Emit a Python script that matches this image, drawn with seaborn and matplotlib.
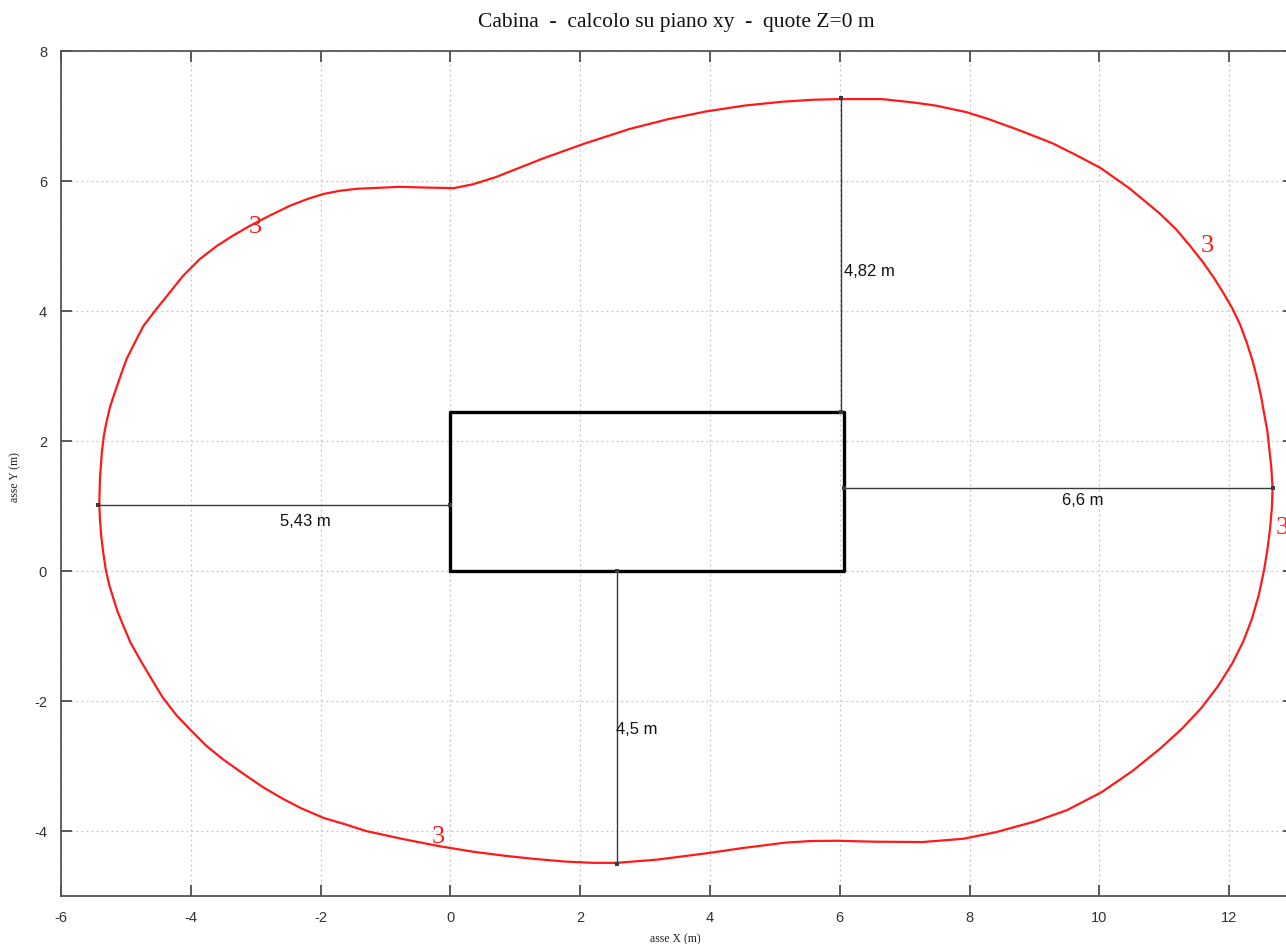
import numpy as np
import pandas as pd
import matplotlib
matplotlib.use("Agg")
import matplotlib.pyplot as plt
import seaborn as sns

# Isoline (3) around the cabin, traced clockwise, closed
iso_x = [-5.41, -5.40, -5.37, -5.34, -5.30, -5.24, -5.17, -5.08, -4.99, -4.87,
         -4.73, -4.53, -4.32, -4.12, -3.86, -3.60, -3.35, -3.09,
         -2.78, -2.47, -2.21, -1.96, -1.70, -1.44, -0.78, -0.42, 0.05, 0.35,
         0.70, 1.41, 2.05, 2.76, 3.35, 3.94, 4.53, 5.12, 5.59, 6.00,
         6.65, 7.12, 7.48, 7.95, 8.30, 8.77, 9.28, 9.64, 10.02, 10.46,
         10.92, 11.19, 11.40, 11.59, 11.76, 11.91, 12.05, 12.17, 12.27, 12.36,
         12.43, 12.49, 12.54, 12.59, 12.62, 12.65, 12.67, 12.66, 12.63, 12.59,
         12.54, 12.46, 12.35, 12.22, 12.05, 11.83, 11.57, 11.28, 10.94, 10.52,
         10.04, 9.50, 9.02, 8.40, 7.90, 7.27, 6.57, 5.94, 5.54, 5.15,
         4.84, 4.52, 3.97, 3.58, 3.19, 2.56, 2.20, 1.77, 1.30, 0.83, 0.36,
         -0.19, -0.75, -1.30, -1.61, -1.95, -2.30, -2.57, -2.88, -3.19, -3.50,
         -3.76, -4.00, -4.22, -4.43, -4.63, -4.79, -4.93, -5.04, -5.13, -5.20,
         -5.26, -5.31, -5.35, -5.38, -5.40, -5.41]
iso_y = [1.03, 1.42, 1.83, 2.08, 2.29, 2.54, 2.75, 3.01, 3.26, 3.50,
         3.77, 4.03, 4.29, 4.54, 4.80, 5.00, 5.16, 5.31,
         5.47, 5.62, 5.72, 5.80, 5.85, 5.88, 5.91, 5.90, 5.89, 5.95,
         6.06, 6.34, 6.57, 6.80, 6.95, 7.07, 7.16, 7.22, 7.25, 7.26,
         7.26, 7.21, 7.16, 7.06, 6.95, 6.78, 6.58, 6.40, 6.20, 5.89,
         5.51, 5.25, 5.00, 4.76, 4.52, 4.28, 4.04, 3.79, 3.52, 3.24,
         2.97, 2.70, 2.42, 2.15, 1.87, 1.60, 1.28, 0.98, 0.64, 0.33,
         0.02, -0.36, -0.74, -1.08, -1.42, -1.77, -2.11, -2.42, -2.73, -3.07,
         -3.40, -3.68, -3.85, -4.02, -4.12, -4.17, -4.165, -4.15, -4.155, -4.18,
         -4.22, -4.26, -4.34, -4.39, -4.44, -4.49, -4.49, -4.47, -4.43, -4.38, -4.32,
         -4.23, -4.12, -4.00, -3.90, -3.80, -3.65, -3.51, -3.33, -3.12, -2.90,
         -2.69, -2.45, -2.22, -1.95, -1.62, -1.35, -1.10, -0.84, -0.62, -0.40,
         -0.20, 0.02, 0.29, 0.54, 0.80, 1.03]

# Isoline value labels
iso_label_text = ["3", "3", "3", "3"]
iso_label_x = [-3.00, 11.67, -0.18, 12.82]
iso_label_y = [5.30, 5.02, -4.07, 0.67]

# Cabin footprint (m)
cabin_w = 6.07
cabin_h = 2.45

# Distance from cabin to isoline: label, value (m), origin, direction, label spot
dim_labels = ["5,43 m", "6,6 m", "4,82 m", "4,5 m"]
dim_values = [5.43, 6.6, 4.82, 4.5]
dim_x0 = [0.0, 6.07, 6.02, 2.57]
dim_y0 = [1.02, 1.28, 2.45, 0.0]
dim_dir = ["-x", "+x", "+y", "-y"]
dim_text_x = [-2.24, 9.75, 6.06, 2.56]
dim_text_y = [0.78, 1.10, 4.63, -2.42]
dim_text_ha = ["center", "center", "left", "left"]

x_ticks = [-6, -4, -2, 0, 2, 4, 6, 8, 10, 12]
y_ticks = [-4, -2, 0, 2, 4, 6, 8]

sns.set_theme(style="white")
plt.rcParams["font.family"] = ["Liberation Sans", "DejaVu Sans"]

fig = plt.figure(figsize=(12.86, 9.45), dpi=100)
ax = fig.add_axes([61 / 1286, 48 / 945, 1233 / 1286, 845 / 945])

ax.set_xlim(-6, 13)
ax.set_ylim(-5, 8)

# Isoline
iso = pd.DataFrame({"x": iso_x, "y": iso_y})
sns.lineplot(data=iso, x="x", y="y", sort=False, estimator=None,
             color="#ff1a1a", linewidth=1.6, ax=ax, zorder=4)
for ln in ax.get_lines():
    ln.set_solid_joinstyle("round")

# Cabin outline
rect = pd.DataFrame({"x": [0, cabin_w, cabin_w, 0, 0],
                     "y": [0, 0, cabin_h, cabin_h, 0]})
sns.lineplot(data=rect, x="x", y="y", sort=False, estimator=None,
             color="black", linewidth=2.4, ax=ax, zorder=5)

# Distance segments
for lab, v, x0, y0, d, tx, ty, ha in zip(dim_labels, dim_values, dim_x0, dim_y0,
                                         dim_dir, dim_text_x, dim_text_y, dim_text_ha):
    if d == "-x":
        xs, ys = [x0 - v, x0], [y0, y0]
    elif d == "+x":
        xs, ys = [x0, x0 + v], [y0, y0]
    elif d == "+y":
        xs, ys = [x0, x0], [y0, y0 + v]
    else:
        xs, ys = [x0, x0], [y0 - v, y0]
    seg = pd.DataFrame({"x": xs, "y": ys})
    sns.lineplot(data=seg, x="x", y="y", sort=False, estimator=None,
                 color="#3a3a3a", linewidth=1.0, marker="s", markersize=2.5,
                 markeredgewidth=0, ax=ax, zorder=6)
    ax.text(tx, ty, lab, ha=ha, va="center", fontsize=12, color="#111111",
            family=["Liberation Sans", "DejaVu Sans"], zorder=7)

for t, lx, ly in zip(iso_label_text, iso_label_x, iso_label_y):
    ax.text(lx, ly, t, ha="center", va="center", fontsize=19, color="#ff1a1a",
            family=["Liberation Serif", "DejaVu Serif"], zorder=7)

ax.set_xticks(x_ticks)
ax.set_yticks(y_ticks)
ax.set_xticklabels([str(v) for v in x_ticks])
ax.set_yticklabels([str(v) for v in y_ticks])
ax.tick_params(axis="both", direction="in", length=8, width=1.2, color="#404040",
               labelsize=10.5, labelcolor="#333333", top=True, right=True,
               bottom=True, left=True, pad=10)
ax.grid(True, color="#c4c4c4", linestyle=(0, (1.5, 2.5)), linewidth=0.9)
for s in ax.spines.values():
    s.set_color("#555555")
    s.set_linewidth(1.3)

ax.set_xlabel("")
ax.set_ylabel("")
fig.text(676 / 1286, 1 - 23 / 945, "Cabina  -  calcolo su piano xy  -  quote Z=0 m",
         ha="center", va="center", fontsize=15.5,
         family=["Liberation Serif", "DejaVu Serif"], color="#111111")
fig.text(675 / 1286, 1 - 939 / 945, "asse X (m)", ha="center", va="center",
         fontsize=8.5, family=["Liberation Serif", "DejaVu Serif"], color="#222222")
fig.text(15 / 1286, 1 - 477 / 945, "asse Y (m)", ha="center", va="center",
         rotation=90, fontsize=8.5, family=["Liberation Serif", "DejaVu Serif"],
         color="#222222")

fig.savefig("out.png", dpi=100)
